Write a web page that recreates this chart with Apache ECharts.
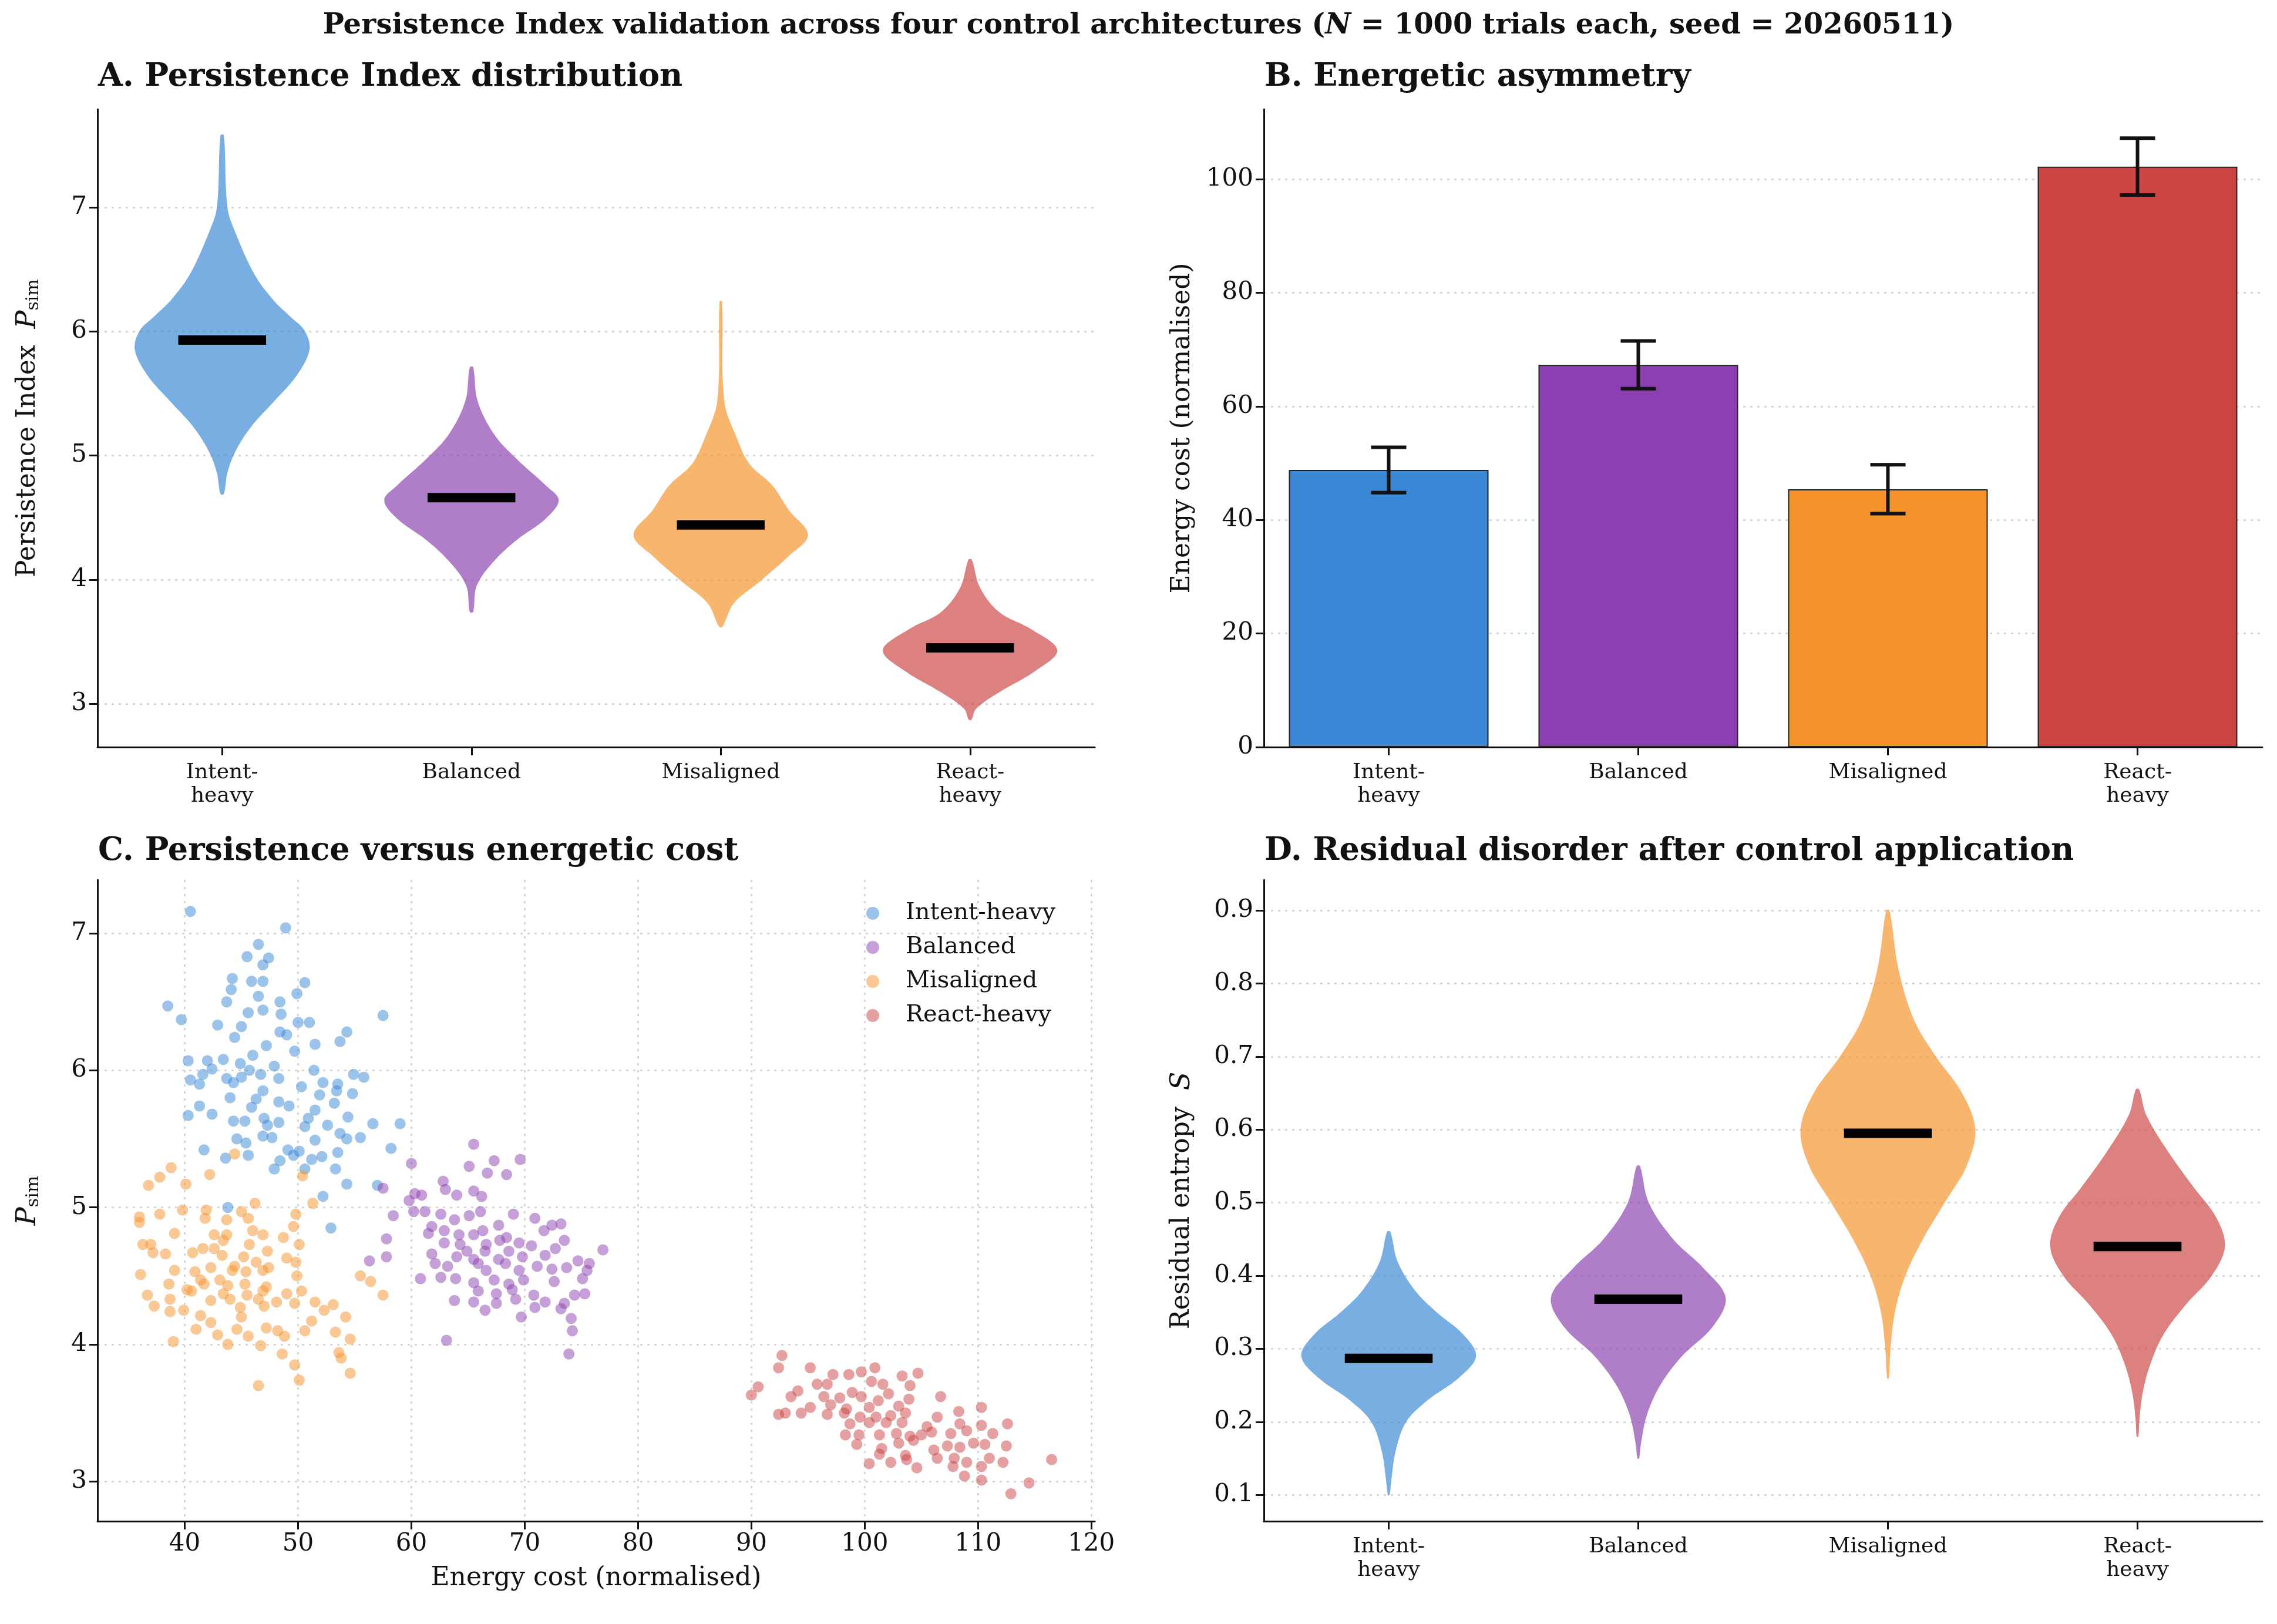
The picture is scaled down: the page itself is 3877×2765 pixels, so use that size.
<!DOCTYPE html>
<html>
<head>
<meta charset="utf-8">
<script src="https://cdn.jsdelivr.net/npm/echarts@6/dist/echarts.min.js"></script>
<style>html,body{margin:0;padding:0;background:#fff}#c{width:3877px;height:2765px}</style>
</head>
<body>
<div id="c"></div>
<script>
var categories = ['Intent-\nheavy', 'Balanced', 'Misaligned', 'React-\nheavy'];
var names = ['Intent-heavy', 'Balanced', 'Misaligned', 'React-heavy'];
var colors = ['#3a87d6', '#8b3fb0', '#f5922a', '#cc4444'];

// A: persistence index violins (value, relative half width)
var piIntentV = [7.58, 7.0, 6.8, 6.46, 6.25, 6.12, 6.0, 5.85, 5.64, 5.44, 5.23, 5.03, 4.86, 4.69];
var piIntentW = [0.02, 0.06, 0.15, 0.37, 0.59, 0.78, 0.95, 1, 0.85, 0.6, 0.33, 0.15, 0.06, 0.02];
var piBalV = [5.71, 5.44, 5.17, 4.97, 4.76, 4.64, 4.49, 4.32, 4.15, 3.95, 3.74];
var piBalW = [0.02, 0.07, 0.26, 0.52, 0.85, 1, 0.85, 0.52, 0.26, 0.06, 0.02];
var piMisV = [6.24, 5.44, 5.13, 4.93, 4.76, 4.56, 4.36, 4.19, 3.98, 3.81, 3.62];
var piMisW = [0.015, 0.04, 0.19, 0.33, 0.59, 0.78, 1, 0.78, 0.44, 0.15, 0.02];
var piReactV = [4.16, 3.94, 3.74, 3.6, 3.43, 3.26, 3.09, 2.96, 2.87];
var piReactW = [0.02, 0.11, 0.33, 0.7, 1, 0.74, 0.33, 0.07, 0.015];
var piMedians = [5.93, 4.66, 4.44, 3.45];

// B: energy cost
var energyMean = [48.8, 67.3, 45.4, 102.2];
var energyErr = [4.0, 4.2, 4.3, 5.0];

// D: residual entropy violins
var sIntentV = [0.46, 0.42, 0.38, 0.35, 0.32, 0.29, 0.26, 0.23, 0.2, 0.16, 0.12, 0.10];
var sIntentW = [0.02, 0.1, 0.3, 0.55, 0.85, 1, 0.8, 0.45, 0.2, 0.08, 0.03, 0.01];
var sBalV = [0.55, 0.5, 0.45, 0.41, 0.37, 0.33, 0.29, 0.25, 0.21, 0.17, 0.15];
var sBalW = [0.02, 0.12, 0.4, 0.75, 1, 0.85, 0.5, 0.25, 0.1, 0.03, 0.01];
var sMisV = [0.9, 0.82, 0.75, 0.7, 0.65, 0.6, 0.55, 0.5, 0.45, 0.4, 0.35, 0.3, 0.26];
var sMisW = [0.02, 0.12, 0.3, 0.55, 0.85, 1, 0.9, 0.65, 0.4, 0.2, 0.08, 0.03, 0.01];
var sReactV = [0.655, 0.62, 0.57, 0.52, 0.48, 0.44, 0.40, 0.36, 0.32, 0.28, 0.24, 0.2, 0.18];
var sReactW = [0.02, 0.1, 0.35, 0.65, 0.9, 1, 0.85, 0.55, 0.3, 0.15, 0.06, 0.02, 0.01];
var sMedians = [0.287, 0.368, 0.595, 0.44];

// C: scatter (energy, P_sim)
var scIntent = [[40.5,7.16],[48.9,7.04],[46.5,6.92],[45.5,6.83],[47.4,6.82],[46.9,6.77],[44.2,6.67],[45.9,6.65],[46.9,6.65],[44.1,6.59],[46.5,6.54],[49.9,6.56],[50.6,6.64],[38.5,6.47],[43.7,6.5],[48.4,6.5],[45.6,6.42],[46.9,6.44],[57.5,6.4],[39.7,6.37],[42.9,6.33],[45.0,6.32],[50.0,6.35],[51.0,6.35],[48.5,6.41],[44.4,6.24],[48.4,6.28],[54.3,6.28],[49.0,6.26],[53.7,6.21],[47.2,6.18],[51.5,6.19],[46.0,6.11],[49.7,6.14],[40.3,6.07],[42.0,6.07],[43.4,6.08],[44.9,6.05],[47.9,6.03],[42.4,6.01],[45.7,6.0],[41.6,5.97],[43.7,5.94],[45.0,5.95],[46.7,5.97],[51.4,6.0],[54.9,5.97],[55.8,5.95],[40.5,5.93],[48.3,5.94],[50.3,5.88],[52.2,5.91],[53.5,5.9],[41.3,5.9],[44.3,5.91],[46.9,5.85],[53.4,5.85],[54.8,5.83],[44.0,5.8],[46.3,5.79],[48.3,5.77],[51.9,5.82],[53.2,5.76],[41.3,5.74],[45.9,5.73],[49.2,5.74],[51.5,5.71],[40.3,5.67],[42.4,5.68],[47.0,5.65],[50.9,5.65],[54.4,5.66],[44.3,5.63],[45.3,5.63],[48.3,5.62],[52.6,5.6],[56.6,5.61],[59.0,5.61],[47.3,5.6],[50.6,5.59],[44.6,5.5],[46.9,5.52],[47.7,5.51],[51.5,5.49],[53.7,5.54],[54.3,5.5],[45.4,5.47],[55.5,5.51],[41.7,5.42],[49.1,5.42],[50.1,5.41],[53.5,5.4],[58.2,5.43],[43.6,5.36],[45.6,5.38],[49.6,5.38],[52.1,5.37],[48.4,5.34],[51.2,5.35],[47.9,5.28],[50.6,5.28],[53.3,5.28],[54.3,5.17],[57.0,5.16],[52.2,5.08],[43.8,5.0],[52.9,4.85]];
var scBalanced = [[65.5,5.46],[67.3,5.34],[69.6,5.35],[65.1,5.3],[60.0,5.32],[66.7,5.25],[68.4,5.24],[62.8,5.19],[57.5,5.14],[63.0,5.13],[64.0,5.09],[65.5,5.12],[66.2,5.08],[60.3,5.1],[60.9,5.09],[59.8,5.05],[60.2,4.97],[61.2,4.97],[58.4,4.94],[62.6,4.95],[65.1,4.94],[66.1,4.97],[69.0,4.95],[70.9,4.92],[63.8,4.91],[61.8,4.86],[62.9,4.83],[66.3,4.83],[67.7,4.87],[72.4,4.87],[73.2,4.88],[61.5,4.81],[64.2,4.8],[65.5,4.8],[68.4,4.78],[71.7,4.83],[62.9,4.74],[64.3,4.73],[66.6,4.73],[67.8,4.76],[69.5,4.74],[73.5,4.76],[57.8,4.77],[64.9,4.68],[66.5,4.68],[68.6,4.68],[70.6,4.72],[72.7,4.7],[76.9,4.69],[61.8,4.66],[64.0,4.64],[65.5,4.62],[67.7,4.62],[69.8,4.64],[71.8,4.65],[56.3,4.61],[57.8,4.64],[62.1,4.59],[63.2,4.57],[65.9,4.59],[68.3,4.59],[71.1,4.57],[74.7,4.61],[75.7,4.59],[66.6,4.54],[69.5,4.54],[72.4,4.55],[73.7,4.56],[75.5,4.54],[60.8,4.48],[62.6,4.49],[63.9,4.48],[65.5,4.45],[67.3,4.47],[68.6,4.44],[69.9,4.47],[72.6,4.46],[75.1,4.48],[65.9,4.39],[67.5,4.37],[68.9,4.4],[70.8,4.36],[74.4,4.36],[75.3,4.37],[63.8,4.32],[65.5,4.31],[67.5,4.3],[69.2,4.33],[71.8,4.31],[73.5,4.3],[66.5,4.25],[70.9,4.27],[73.2,4.26],[69.7,4.2],[74.1,4.19],[74.2,4.1],[63.1,4.03],[73.9,3.93]];
var scMisaligned = [[44.4,5.39],[38.8,5.29],[37.8,5.22],[36.8,5.16],[40.1,5.17],[42.2,5.24],[50.4,5.23],[51.3,5.03],[46.2,5.03],[45.0,4.97],[39.8,4.98],[41.9,4.98],[37.8,4.95],[36.0,4.93],[49.8,4.95],[36.0,4.89],[41.8,4.92],[43.7,4.91],[45.6,4.92],[39.1,4.81],[42.6,4.8],[43.7,4.8],[46.0,4.83],[46.9,4.8],[48.7,4.78],[49.6,4.86],[36.3,4.73],[37.0,4.73],[43.4,4.76],[45.7,4.73],[50.1,4.73],[37.2,4.67],[38.3,4.66],[40.7,4.67],[41.6,4.7],[42.6,4.7],[47.3,4.68],[43.3,4.65],[45.2,4.64],[49.0,4.63],[39.1,4.54],[40.9,4.53],[42.3,4.56],[44.4,4.57],[46.3,4.6],[47.4,4.56],[49.8,4.6],[36.1,4.51],[44.2,4.54],[45.4,4.53],[46.9,4.54],[49.9,4.5],[55.5,4.5],[41.4,4.47],[43.1,4.47],[56.4,4.46],[38.6,4.44],[40.6,4.39],[41.7,4.44],[43.8,4.43],[45.3,4.44],[47.2,4.42],[36.7,4.36],[40.2,4.4],[43.4,4.37],[45.5,4.36],[46.9,4.39],[49.0,4.37],[50.3,4.39],[57.5,4.36],[37.3,4.28],[38.7,4.33],[42.3,4.32],[44.0,4.33],[46.5,4.33],[48.1,4.31],[49.7,4.3],[51.5,4.31],[53.1,4.29],[38.7,4.24],[39.9,4.25],[44.9,4.27],[47.0,4.28],[52.3,4.25],[41.4,4.21],[42.3,4.16],[45.0,4.2],[51.2,4.17],[54.2,4.2],[41.0,4.11],[44.6,4.11],[47.2,4.12],[48.2,4.1],[50.6,4.1],[42.9,4.07],[45.6,4.06],[48.8,4.06],[53.3,4.09],[54.6,4.04],[39.0,4.02],[43.8,4.0],[46.7,3.99],[53.6,3.94],[48.6,3.93],[53.8,3.9],[49.7,3.85],[54.6,3.79],[50.1,3.74],[46.5,3.7]];
var scReact = [[92.7,3.92],[92.4,3.83],[95.2,3.83],[99.7,3.8],[100.9,3.83],[104.7,3.79],[97.2,3.78],[103.3,3.77],[98.6,3.78],[90.6,3.69],[90.0,3.63],[95.8,3.71],[96.7,3.71],[100.6,3.73],[101.6,3.71],[104.0,3.7],[93.5,3.62],[94.1,3.66],[96.4,3.62],[97.8,3.61],[98.9,3.65],[99.7,3.62],[101.2,3.59],[102.1,3.64],[103.9,3.6],[106.7,3.62],[95.2,3.54],[97.0,3.56],[98.4,3.53],[100.4,3.54],[103.0,3.55],[92.4,3.49],[93.0,3.5],[94.4,3.5],[96.7,3.49],[98.2,3.5],[99.6,3.47],[101.0,3.47],[102.3,3.48],[103.6,3.5],[106.4,3.47],[108.3,3.51],[110.3,3.54],[98.7,3.42],[100.4,3.43],[101.9,3.43],[103.3,3.43],[105.5,3.4],[108.4,3.42],[110.3,3.41],[112.6,3.42],[98.3,3.34],[99.5,3.34],[101.3,3.34],[102.8,3.35],[104.0,3.33],[105.0,3.34],[105.9,3.36],[107.6,3.35],[109.0,3.37],[111.3,3.35],[99.3,3.27],[103.0,3.28],[104.3,3.3],[106.1,3.23],[107.3,3.26],[108.4,3.25],[109.6,3.28],[110.6,3.27],[112.5,3.26],[101.5,3.24],[101.3,3.2],[103.6,3.19],[106.4,3.17],[107.9,3.17],[109.0,3.14],[111.0,3.17],[100.4,3.13],[102.3,3.14],[103.7,3.16],[112.2,3.14],[107.8,3.11],[110.3,3.11],[104.6,3.1],[116.5,3.16],[108.8,3.04],[110.3,3.01],[114.5,2.99],[112.9,2.91]];

var piTicks = [3, 4, 5, 6, 7];
var energyTicks = [0, 20, 40, 60, 80, 100];
var cxTicks = [40, 50, 60, 70, 80, 90, 100, 110, 120];
var sTicks = [0.1, 0.2, 0.3, 0.4, 0.5, 0.6, 0.7, 0.8, 0.9];

var FONT = 'DejaVu Serif';
var violinsA = [[piIntentV, piIntentW], [piBalV, piBalW], [piMisV, piMisW], [piReactV, piReactW]];
var violinsD = [[sIntentV, sIntentW], [sBalV, sBalW], [sMisV, sMisW], [sReactV, sReactW]];

function violinRender(set) {
  return function (params, api) {
    var i = api.value(0);
    var band = api.size([1, 0])[0];
    var half = band * 0.35;
    var vs = set[i][0], ws = set[i][1];
    var cx = api.coord([i, vs[0]])[0];
    var right = [], left = [];
    for (var k = 0; k < vs.length; k++) {
      var y = api.coord([i, vs[k]])[1];
      right.push([cx + ws[k] * half, y]);
      left.unshift([cx - ws[k] * half, y]);
    }
    var my = api.coord([i, api.value(1)])[1];
    return {
      type: 'group',
      children: [
        { type: 'polygon', shape: { points: right.concat(left), smooth: 0.35 },
          style: { fill: colors[i], opacity: 0.68 } },
        { type: 'rect', shape: { x: cx - band * 0.176, y: my - 8, width: band * 0.352, height: 16 },
          style: { fill: '#000' } }
      ]
    };
  };
}

function errRender(params, api) {
  var i = api.value(0), m = api.value(1), e = api.value(2);
  var p1 = api.coord([i, m + e]), p0 = api.coord([i, m - e]);
  var s = { stroke: '#111', lineWidth: 6 };
  return { type: 'group', children: [
    { type: 'line', shape: { x1: p1[0], y1: p1[1], x2: p0[0], y2: p0[1] }, style: s },
    { type: 'line', shape: { x1: p1[0] - 30, y1: p1[1], x2: p1[0] + 30, y2: p1[1] }, style: s },
    { type: 'line', shape: { x1: p0[0] - 30, y1: p0[1], x2: p0[0] + 30, y2: p0[1] }, style: s }
  ]};
}

var axisLine = { show: true, lineStyle: { color: '#111', width: 3 } };
var split = { show: true, lineStyle: { color: '#d8d8d8', type: [4, 8], width: 3 } };
var numLabel = { fontFamily: FONT, fontSize: 42, color: '#111', margin: 18 };

function catAxis(gi) {
  return { type: 'category', gridIndex: gi, data: categories, boundaryGap: true,
    axisLine: axisLine, axisTick: { show: true, alignWithLabel: true, length: 14, lineStyle: { color: '#111', width: 3 } },
    axisLabel: { fontFamily: FONT, fontSize: 36, color: '#111', lineHeight: 40, margin: 24 } };
}
function valAxis(gi, min, max, ticks, name, extra) {
  var ax = { type: 'value', gridIndex: gi, min: min, max: max,
    axisLine: axisLine,
    axisTick: { show: true, length: 14, lineStyle: { color: '#111', width: 3 }, customValues: ticks },
    axisLabel: Object.assign({ customValues: ticks }, numLabel),
    splitLine: split,
    name: name, nameLocation: 'middle', nameGap: 80,
    nameTextStyle: { fontFamily: FONT, fontSize: 44, color: '#111',
      rich: { n: { fontFamily: FONT, fontSize: 44, color: '#111' },
              i: { fontFamily: FONT, fontSize: 46, fontStyle: 'italic', color: '#111' },
              sub: { fontFamily: FONT, fontSize: 30, color: '#111', padding: [18, 0, 0, 0] } } } };
  return Object.assign(ax, extra || {});
}

var titleStyle = { fontFamily: FONT, fontSize: 54, fontWeight: 'bold', color: '#111' };
var option = {
  backgroundColor: '#fff',
  animation: false,
  title: [
    { text: '{b|Persistence Index validation across four control architectures (}{i|N}{b| = 1000 trials each, seed = 20260511)}',
      left: 'center', top: 16,
      textStyle: { rich: { b: { fontFamily: FONT, fontSize: 48, fontWeight: 'bold', color: '#111' },
                           i: { fontFamily: FONT, fontSize: 48, fontWeight: 'bold', fontStyle: 'italic', color: '#111' } } } },
    { text: 'A. Persistence Index distribution', left: 162, top: 100, textStyle: titleStyle },
    { text: 'B. Energetic asymmetry', left: 2148, top: 100, textStyle: titleStyle },
    { text: 'C. Persistence versus energetic cost', left: 162, top: 1418, textStyle: titleStyle },
    { text: 'D. Residual disorder after control application', left: 2148, top: 1418, textStyle: titleStyle }
  ],
  legend: {
    data: names, left: 1470, top: 1530, orient: 'vertical', itemGap: 18,
    itemWidth: 22, itemHeight: 22, icon: 'circle',
    textStyle: { fontFamily: FONT, fontSize: 40, color: '#111', padding: [0, 0, 0, 40] }
  },
  grid: [
    { left: 166, top: 186, width: 1698, height: 1086 },
    { left: 2152, top: 186, width: 1700, height: 1086 },
    { left: 166, top: 1498, width: 1698, height: 1092 },
    { left: 2152, top: 1498, width: 1700, height: 1092 }
  ],
  xAxis: [
    catAxis(0), catAxis(1),
    valAxis(2, 32.3, 120.3, cxTicks, 'Energy cost (normalised)', { nameGap: 76, splitLine: split }),
    catAxis(3)
  ],
  yAxis: [
    valAxis(0, 2.65, 7.79, piTicks, '{n|Persistence Index  }{i|P}{sub|sim}', { nameGap: 94 }),
    valAxis(1, 0, 112.3, energyTicks, 'Energy cost (normalised)', { nameGap: 116 }),
    valAxis(2, 2.71, 7.39, piTicks, '{i|P}{sub|sim}', { nameGap: 94 }),
    valAxis(3, 0.064, 0.942, sTicks, '{n|Residual entropy  }{i|S}', { nameGap: 116 })
  ],
  series: [
    { type: 'custom', xAxisIndex: 0, yAxisIndex: 0, renderItem: violinRender(violinsA),
      data: piMedians.map(function (m, i) { return [i, m]; }) },
    { type: 'bar', xAxisIndex: 1, yAxisIndex: 1, barWidth: '80%',
      data: energyMean.map(function (v, i) {
        return { value: v, itemStyle: { color: colors[i], borderColor: '#222', borderWidth: 2 } }; }) },
    { type: 'custom', xAxisIndex: 1, yAxisIndex: 1, renderItem: errRender, z: 5,
      data: energyMean.map(function (v, i) { return [i, v, energyErr[i]]; }) },
    { type: 'scatter', name: names[0], xAxisIndex: 2, yAxisIndex: 2, data: scIntent, symbolSize: 19, itemStyle: { color: colors[0], opacity: 0.5 } },
    { type: 'scatter', name: names[1], xAxisIndex: 2, yAxisIndex: 2, data: scBalanced, symbolSize: 19, itemStyle: { color: colors[1], opacity: 0.5 } },
    { type: 'scatter', name: names[2], xAxisIndex: 2, yAxisIndex: 2, data: scMisaligned, symbolSize: 19, itemStyle: { color: colors[2], opacity: 0.5 } },
    { type: 'scatter', name: names[3], xAxisIndex: 2, yAxisIndex: 2, data: scReact, symbolSize: 19, itemStyle: { color: colors[3], opacity: 0.5 } },
    { type: 'custom', xAxisIndex: 3, yAxisIndex: 3, renderItem: violinRender(violinsD),
      data: sMedians.map(function (m, i) { return [i, m]; }) }
  ]
};
echarts.init(document.getElementById('c')).setOption(option);
</script>
</body>
</html>
